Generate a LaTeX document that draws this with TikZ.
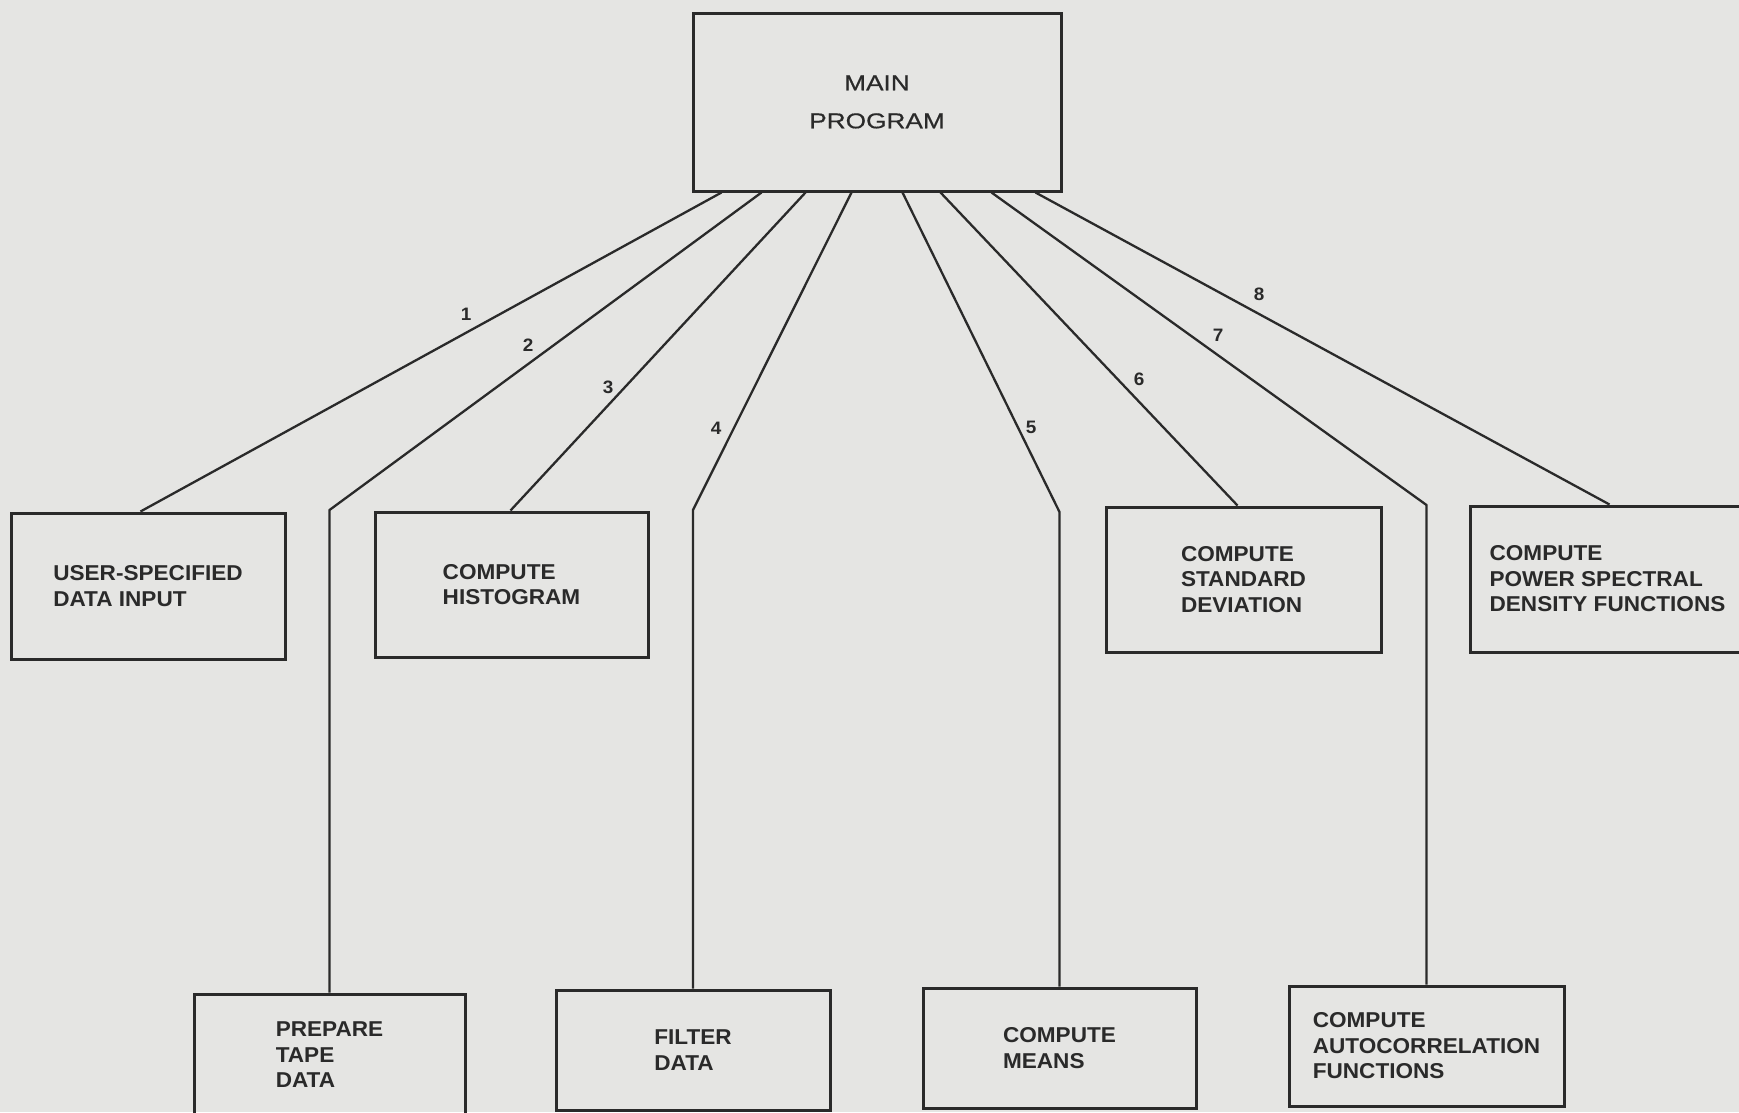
\documentclass[tikz,border=0pt]{standalone}
\usepackage{fontspec}
\usetikzlibrary{calc}
\newfontfamily\boxfont[FakeStretch=1.05]{Liberation Sans}
\newfontfamily\headfont[FakeStretch=1.22,FakeBold=0.6]{Liberation Sans}
\definecolor{paper}{RGB}{229,229,227}
\definecolor{ink}{RGB}{42,42,42}

\begin{document}
\begin{tikzpicture}[x=1pt,y=-1pt,
  module/.style={draw=ink, line width=3pt, rectangle, inner sep=0pt,
    align=left, text=ink,
    font=\boxfont\bfseries\fontsize{21.5}{25.5}\selectfont},
  link/.style={draw=ink, line width=2.3pt, line join=round},
  num/.style={text=ink, inner sep=0pt,
    font=\boxfont\bfseries\fontsize{18}{18}\selectfont}]

\useasboundingbox (0,0) rectangle (1739,1112);
\clip (0,0) rectangle (1739,1112);
\fill[paper] (0,0) rectangle (1739,1112);

% top-level module
\node[module, minimum width=368pt, minimum height=178pt, align=center,
  font=\headfont\fontsize{21.5}{38}\selectfont] (main) at (877,102)
  {MAIN\\PROGRAM};

% upper row of subroutines
\node[module, minimum width=274pt, minimum height=146pt] (input) at (148,586)
  {USER-SPECIFIED\\DATA INPUT};
\node[module, minimum width=273pt, minimum height=145pt] (hist) at (511.5,584.5)
  {COMPUTE\\HISTOGRAM};
\node[module, minimum width=275pt, minimum height=145pt] (stdev) at (1243.5,579.5)
  {COMPUTE\\STANDARD\\DEVIATION};
\node[module, minimum width=275pt, minimum height=146pt] (psd) at (1607.5,579)
  {COMPUTE\\POWER SPECTRAL\\DENSITY FUNCTIONS};

% lower row of subroutines
\node[module, minimum width=271pt, minimum height=122pt] (tape) at (329.5,1055)
  {PREPARE\\TAPE\\DATA};
\node[module, minimum width=274pt, minimum height=120pt] (filter) at (693,1050)
  {FILTER\\DATA};
\node[module, minimum width=273pt, minimum height=120pt] (means) at (1059.5,1048)
  {COMPUTE\\MEANS};
\node[module, minimum width=275pt, minimum height=120pt] (autoc) at (1426.5,1046)
  {COMPUTE\\AUTOCORRELATION\\FUNCTIONS};

% bends of the calls that run down to the lower row
\coordinate (k2) at (329.5,510);
\coordinate (k4) at (693,510);
\coordinate (k5) at (1059.5,512);
\coordinate (k7) at (1426.5,505);

% calls from the main program
\draw[link] ([xshift=30pt]main.south west) -- ([xshift=131pt]input.north west);
\draw[link] ([xshift=70pt]main.south west) -- (k2) -- (tape.north);
\draw[link] ([xshift=114pt]main.south west) -- ([xshift=137pt]hist.north west);
\draw[link] ([xshift=160pt]main.south west) -- (k4) -- (filter.north);
\draw[link] ([xshift=211pt]main.south west) -- (k5) -- (means.north);
\draw[link] ([xshift=249pt]main.south west) -- ([xshift=133pt]stdev.north west);
\draw[link] ([xshift=300pt]main.south west) -- (k7) -- (autoc.north);
\draw[link] ([xshift=344pt]main.south west) -- ([xshift=141pt]psd.north west);

% call order
\node[num] (n1) at (466,314) {1};
\node[num] (n2) at (528,345) {2};
\node[num] (n3) at (608,387) {3};
\node[num] (n4) at (716,428) {4};
\node[num] (n5) at (1031,427) {5};
\node[num] (n6) at (1139,379) {6};
\node[num] (n7) at (1218,335) {7};
\node[num] (n8) at (1259,294) {8};
\end{tikzpicture}
\end{document}
